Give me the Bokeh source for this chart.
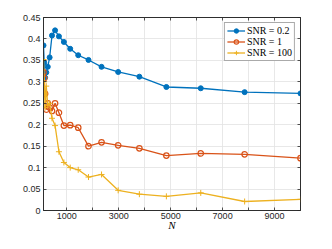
from bokeh.plotting import figure
from bokeh.models import FixedTicker, LinearAxis, Range1d, Legend, LegendItem
from bokeh.embed import file_html
from bokeh.resources import INLINE

# ---- data ----
N = [100, 127, 162, 207, 264, 336, 428, 546, 695, 886, 1129, 1438, 1833,
     2336, 2976, 3793, 4833, 6158, 7848, 10000]
snr_02 = [0.385, 0.345, 0.310, 0.322, 0.335, 0.357, 0.408, 0.420, 0.406, 0.393,
          0.377, 0.362, 0.351, 0.335, 0.323, 0.312, 0.288, 0.285, 0.276, 0.273]
snr_1 = [0.322, 0.308, 0.272, 0.235, 0.250, 0.240, 0.232, 0.250, 0.228, 0.198,
         0.199, 0.193, 0.150, 0.159, 0.152, 0.145, 0.128, 0.133, 0.131, 0.122]
snr_100 = [0.352, 0.300, 0.240, 0.290, 0.245, 0.250, 0.215, 0.198, 0.137, 0.112,
           0.100, 0.095, 0.078, 0.084, 0.047, 0.038, 0.033, 0.041, 0.021, 0.026]
series_labels = ["SNR = 0.2", "SNR = 1", "SNR = 100"]

x_ticks = [1000, 2000, 3000, 4000, 5000, 6000, 7000, 8000, 9000]
x_tick_labels = ["1000", "", "3000", "", "5000", "", "7000", "", "9000"]
y_ticks = [0, 0.05, 0.1, 0.15, 0.2, 0.25, 0.3, 0.35, 0.4, 0.45]
y_tick_labels = ["0", "0.05", "0.1", "0.15", "0.2", "0.25", "0.3", "0.35", "0.4", "0.45"]
x_lim = (100, 10000)
y_lim = (0, 0.45)
x_label = "N"

# ---- styling ----
BLUE, ORANGE, YELLOW = "#0072BD", "#D95319", "#EDB120"
AX = "#262626"
GRID = "#e2e2e2"

p = figure(width=316, height=233, output_backend="svg", toolbar_location=None,
           x_range=Range1d(*x_lim), y_range=Range1d(*y_lim),
           min_border_left=43, min_border_right=16, min_border_top=17,
           min_border_bottom=22, background_fill_color="white",
           border_fill_color="white")
p.outline_line_color = AX
p.outline_line_width = 0.8

def style_axis(ax, ticks, labels, show):
    ax.ticker = FixedTicker(ticks=ticks)
    ax.major_label_overrides = {t: (l if show else "") for t, l in zip(ticks, labels)}
    ax.major_tick_in = 3
    ax.major_tick_out = 0
    ax.minor_tick_in = 0
    ax.minor_tick_out = 0
    ax.axis_line_color = AX
    ax.axis_line_width = 0.8
    ax.major_tick_line_color = AX
    ax.major_tick_line_width = 0.8
    ax.major_label_text_font = "Liberation Sans"
    ax.major_label_text_font_size = "9px"
    ax.major_label_text_color = AX
    ax.major_label_standoff = 3

bottom_ax = p.xaxis[0]
left_ax = p.yaxis[0]
style_axis(bottom_ax, x_ticks, x_tick_labels, True)
style_axis(left_ax, y_ticks, y_tick_labels, True)
bottom_ax.major_label_standoff = 2
top_ax = LinearAxis()
right_ax = LinearAxis()
style_axis(top_ax, x_ticks, x_tick_labels, False)
style_axis(right_ax, y_ticks, y_tick_labels, False)
top_ax.major_label_text_font_size = "0px"
right_ax.major_label_text_font_size = "0px"
top_ax.major_label_standoff = 0
right_ax.major_label_standoff = 0
p.add_layout(top_ax, "above")
p.add_layout(right_ax, "right")

bottom_ax.axis_label = x_label
bottom_ax.axis_label_text_font = "Liberation Serif"
bottom_ax.axis_label_text_font_style = "italic"
bottom_ax.axis_label_text_font_size = "11px"
bottom_ax.axis_label_text_color = "black"
bottom_ax.axis_label_standoff = -3

p.xgrid.ticker = FixedTicker(ticks=x_ticks)
p.ygrid.ticker = FixedTicker(ticks=y_ticks)
p.xgrid.grid_line_color = GRID
p.ygrid.grid_line_color = GRID
p.xgrid.grid_line_width = 0.8
p.ygrid.grid_line_width = 0.8

LW = 1.3
l1 = p.line(N, snr_02, line_color=BLUE, line_width=LW)
m1 = p.scatter(N, snr_02, marker="circle", size=5, fill_color=BLUE, line_color=BLUE)
l2 = p.line(N, snr_1, line_color=ORANGE, line_width=LW)
m2 = p.scatter(N, snr_1, marker="circle", size=5.5, fill_color=None,
               line_color=ORANGE, line_width=1.2)
l3 = p.line(N, snr_100, line_color=YELLOW, line_width=LW)
m3 = p.scatter(N, snr_100, marker="cross", size=6, line_color=YELLOW, line_width=1)

legend = Legend(items=[
    LegendItem(label=series_labels[0], renderers=[l1, m1]),
    LegendItem(label=series_labels[1], renderers=[l2, m2]),
    LegendItem(label=series_labels[2], renderers=[l3, m3]),
], location="top_right")
legend.label_text_font = "Liberation Serif"
legend.label_text_font_size = "10px"
legend.label_text_color = "black"
legend.label_height = 11
legend.glyph_height = 11
legend.glyph_width = 18
legend.label_standoff = 2
legend.spacing = 0
legend.padding = 2
legend.margin = 5
legend.border_line_color = "#555555"
legend.border_line_width = 0.8
legend.background_fill_color = "white"
legend.background_fill_alpha = 1
p.add_layout(legend)

open("out.html", "w").write(file_html(p, INLINE))
